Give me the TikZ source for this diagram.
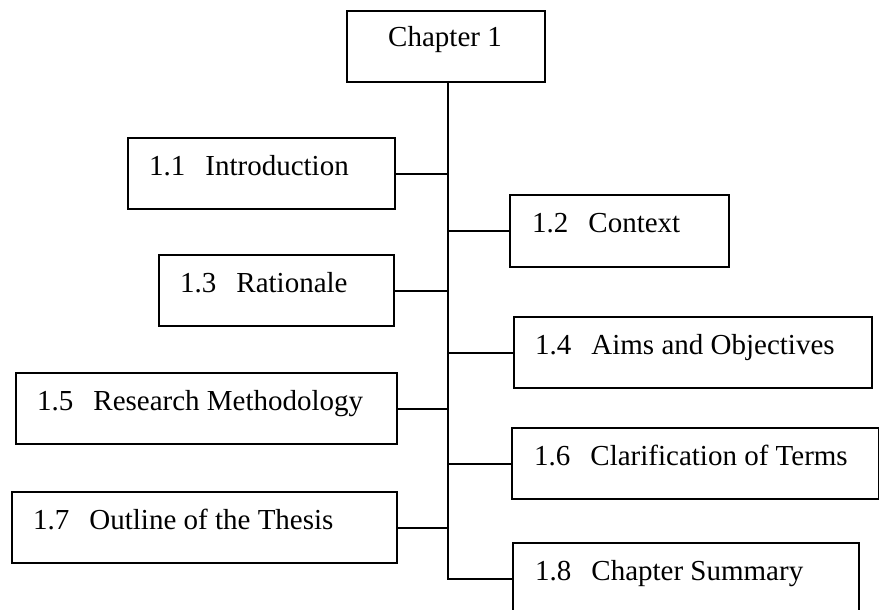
\documentclass[tikz,border=0pt]{standalone}
\usepackage{fontspec}
\setmainfont{Liberation Serif}
\begin{document}
\begin{tikzpicture}[x=1pt,y=-1pt,
  secbox/.style={draw, line width=2pt, rectangle, inner sep=0pt, anchor=north west},
  sectext/.style={anchor=base west, inner sep=0pt, font=\fontsize{29}{34}\selectfont},
  link/.style={line width=2pt}]
\useasboundingbox (0,0) rectangle (879,610);

% chapter heading
\node[secbox, minimum width=198pt, minimum height=71pt] (ch) at (346,10) {};
\node[sectext, anchor=base] (cht) at (445,47) {Chapter 1};

% section boxes
\node[secbox, minimum width=267pt, minimum height=71pt] (s11) at (127,137) {};
\node[secbox, minimum width=219pt, minimum height=72pt] (s12) at (509,194) {};
\node[secbox, minimum width=235pt, minimum height=71pt] (s13) at (158,254) {};
\node[secbox, minimum width=358pt, minimum height=71pt] (s14) at (513,316) {};
\node[secbox, minimum width=381pt, minimum height=71pt] (s15) at (15,372) {};
\node[secbox, minimum width=367pt, minimum height=71pt] (s16) at (511,427) {};
\node[secbox, minimum width=385pt, minimum height=71pt] (s17) at (11,491) {};
\node[secbox, minimum width=346pt, minimum height=71pt] (s18) at (512,542) {};

% section titles
\node[sectext] (t11) at (149,175) {1.1\hspace{20pt}Introduction};
\node[sectext] (t12) at (532,232) {1.2\hspace{20pt}Context};
\node[sectext] (t13) at (180,292) {1.3\hspace{20pt}Rationale};
\node[sectext] (t14) at (535,354) {1.4\hspace{20pt}Aims and Objectives};
\node[sectext] (t15) at (37,410) {1.5\hspace{20pt}Research Methodology};
\node[sectext] (t16) at (534,465) {1.6\hspace{20pt}Clarification of Terms};
\node[sectext] (t17) at (33,529) {1.7\hspace{20pt}Outline of the Thesis};
\node[sectext] (t18) at (535,580) {1.8\hspace{20pt}Chapter Summary};

% spine
\coordinate (spine) at (448,81);
\coordinate (spineEnd) at (spine |- s18.west);
\draw[link] (spine) -- (spineEnd) -- (s18.west);

% branches
\foreach \s in {s11,s13,s15,s17}
  \draw[link] (\s.east) -- (\s.east -| spine);
\foreach \s in {s12,s14,s16}
  \draw[link] (\s.west) -- (\s.west -| spine);
\end{tikzpicture}
\end{document}
